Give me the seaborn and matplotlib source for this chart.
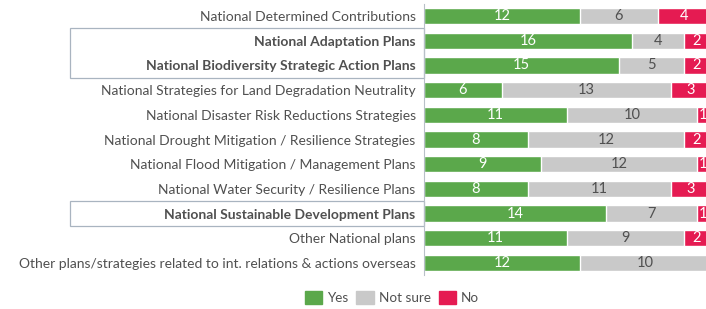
import pandas as pd
import matplotlib
matplotlib.use("Agg")
from matplotlib import pyplot as plt
from matplotlib.patches import Rectangle, Patch
import matplotlib.transforms as mtransforms
import seaborn as sns

# data
plans = [
    "National Determined Contributions",
    "National Adaptation Plans",
    "National Biodiversity Strategic Action Plans",
    "National Strategies for Land Degradation Neutrality",
    "National Disaster Risk Reductions Strategies",
    "National Drought Mitigation / Resilience Strategies",
    "National Flood Mitigation / Management Plans",
    "National Water Security / Resilience Plans",
    "National Sustainable Development Plans",
    "Other National plans",
    "Other plans/strategies related to int. relations & actions overseas",
]
yes = [12, 16, 15, 6, 11, 8, 9, 8, 14, 11, 12]
not_sure = [6, 4, 5, 13, 10, 12, 12, 11, 7, 9, 10]
no = [4, 2, 2, 3, 1, 2, 1, 3, 1, 2, 0]
bold_plans = [
    "National Adaptation Plans",
    "National Biodiversity Strategic Action Plans",
    "National Sustainable Development Plans",
]

GREEN = "#5ba84b"
GREY = "#c9c9c9"
RED = "#e51b52"
TEXT = "#505050"

df = pd.DataFrame({"plan": plans, "yes": yes, "not_sure": not_sure, "no": no})
df["s1"] = df["yes"] + df["not_sure"]
df["s2"] = df["s1"] + df["no"]

sns.set_style("white")
plt.rcParams["font.family"] = ["Lato", "DejaVu Sans"]

fig = plt.figure(figsize=(7.06, 3.09), dpi=100)
ax = fig.add_axes([0.6006, 0.109, 0.4, 0.879])

# stacked horizontal bars: draw totals first, then overlay shorter parts
for col, c in [("s2", RED), ("s1", GREY), ("yes", GREEN)]:
    sns.barplot(data=df, y="plan", x=col, color=c, orient="h",
                width=0.66, saturation=1, errorbar=None, ax=ax)

for i, row in df.iterrows():
    segs = [(0, row["yes"], "white"),
            (row["yes"], row["not_sure"], TEXT),
            (row["s1"], row["no"], "white")]
    for start, w, tc in segs:
        if w > 0:
            ax.text(start + w / 2, i, str(int(w)), ha="center", va="center",
                    color=tc, fontsize=10.5)

ax.set_xlim(0, 21.75)
ax.set_ylim(len(plans) - 0.5, -0.5)
ax.set_xlabel("")
ax.set_ylabel("")
ax.set_xticks([])
ax.tick_params(axis="y", length=0, pad=6, labelsize=10.0, labelcolor=TEXT)
for lab in ax.get_yticklabels():
    if lab.get_text() in bold_plans:
        lab.set_fontweight("bold")
for s in ["top", "right", "bottom"]:
    ax.spines[s].set_visible(False)
ax.spines["left"].set_color("#b8c0c8")
ax.spines["left"].set_linewidth(0.8)

# boxes around highlighted plans
tr = mtransforms.blended_transform_factory(fig.transFigure, ax.transData)
for top, bottom in [(0.5, 2.5), (7.5, 8.5)]:
    ax.add_patch(Rectangle((70 / 706, top), (424 - 70) / 706, bottom - top,
                           transform=tr, fill=False, edgecolor="#a9b4c0",
                           linewidth=0.9, clip_on=False))

handles = [Patch(color=GREEN, label="Yes"), Patch(color=GREY, label="Not sure"),
           Patch(color=RED, label="No")]
fig.legend(handles=handles, loc="center", bbox_to_anchor=(0.555, 0.036),
           ncol=3, frameon=False, fontsize=9.7, handlelength=1.3,
           handleheight=1.1, columnspacing=0.6, handletextpad=0.35,
           labelcolor=TEXT)

fig.savefig("out.png", dpi=100)
